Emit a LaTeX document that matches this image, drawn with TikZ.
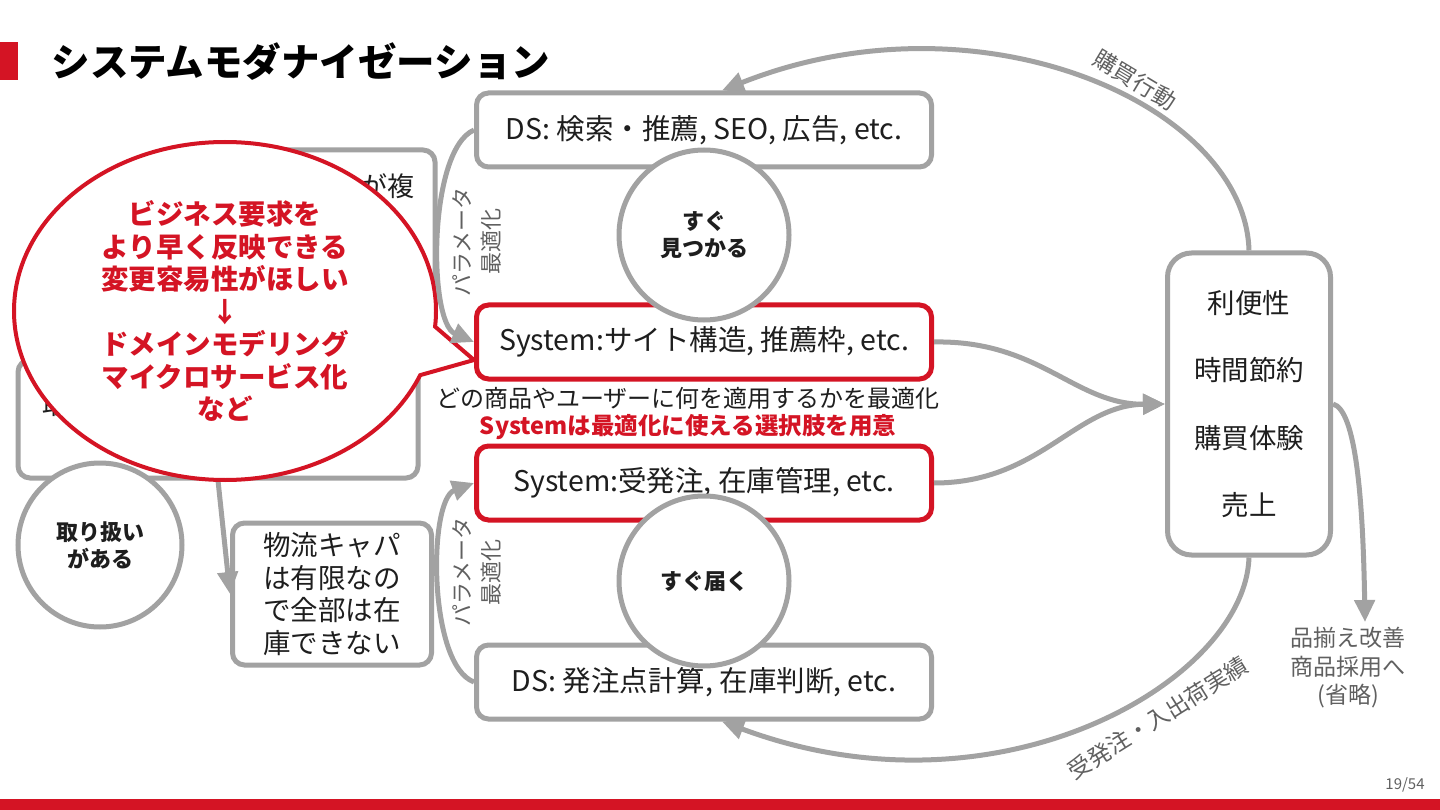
\documentclass[tikz,border=0pt]{standalone}
\usepackage{fontspec}
\setmainfont{Noto Sans CJK JP}
\usepackage{xcolor}
\usetikzlibrary{arrows.meta,positioning,calc,shapes.callouts}

\definecolor{myred}{RGB}{212,20,36}
\definecolor{lgray}{RGB}{162,162,162}
\definecolor{dgray}{RGB}{96,96,96}
\definecolor{ink}{RGB}{30,30,30}

\tikzset{
  gbox/.style={draw=lgray,line width=5pt,rounded corners=12pt,fill=white,
    minimum width=455pt,minimum height=74pt,text=ink,
    font=\fontsize{28.5}{33}\selectfont},
  rbox/.style={gbox,draw=myred},
  bubble/.style={circle,draw=lgray,line width=5pt,fill=white,minimum size=170pt,
    align=center,text=ink,font=\bfseries\fontsize{22}{27}\selectfont},
  flow/.style={draw=lgray,line width=5pt,-{Triangle[length=22pt,width=20pt]}},
  lbl/.style={text=dgray,font=\fontsize{23}{28}\selectfont}
}

\begin{document}
\begin{tikzpicture}[x=1pt,y=1pt]
  \useasboundingbox (0,0) rectangle (1440,-810);
  % title and page frame
  \fill[myred] (0,-42) rectangle (18,-80);
  \node[anchor=west,text=black,font=\bfseries\fontsize{38.5}{44}\selectfont] (title) at (48,-62) {システムモダナイゼーション};
  \fill[myred] (0,-799) rectangle (1440,-810);
  \node[text=dgray,font=\fontsize{15}{17}\selectfont] (page) at (1405,-785) {19/54};

  % left side, mostly hidden by the callout
  \node[gbox,minimum width=203pt,minimum height=180pt] (boxA) at (333.5,-240) {};
  \node[text=ink,font=\fontsize{27}{32}\selectfont] (boxAtxt) at (387,-186) {が複};
  \node[gbox,minimum width=400pt,minimum height=118pt] (boxB) at (218,-419) {};
  \node[text=ink,font=\fontsize{27}{32}\selectfont] (boxBtxt) at (56,-405) {取};
  \node[bubble,minimum size=164pt] (toriatsukai) at (100,-545) {取り扱い\\がある};
  \node[gbox,minimum width=199pt,minimum height=142pt,align=center,
    font=\fontsize{27.5}{32.5}\selectfont] (butsuryu) at (332,-594)
    {物流キャパ\\は有限なの\\で全部は在\\庫できない};
  \draw[flow] (boxB.south) -- (butsuryu.west);

  % callout
  \node[ellipse callout,draw=myred,line width=4pt,fill=white,
    minimum width=422pt,minimum height=338pt,
    callout absolute pointer={(474,-360)},callout pointer arc=17,
    align=center,text=myred,font=\bfseries\fontsize{27.5}{32.5}\selectfont] (callout) at (225,-311)
    {ビジネス要求を\\より早く反映できる\\変更容易性がほしい\\↓\\ドメインモデリング\\マイクロサービス化\\など};

  % centre column
  \node[gbox] (dstop) at (704,-130) {DS: 検索・推薦, SEO, 広告, etc.};
  \node[rbox] (systop) at (704,-342) {System:サイト構造, 推薦枠, etc.};
  \node[rbox] (sysbot) at (704,-483) {System:受発注, 在庫管理, etc.};
  \node[gbox] (dsbot) at (704,-682) {DS: 発注点計算, 在庫判断, etc.};
  \node[bubble] (mitsukaru) at (704,-235) {すぐ\\見つかる};
  \node[bubble] (todoku) at (704,-581) {すぐ届く};
  \node[text=ink,font=\fontsize{24}{28}\selectfont] (tekiyo) at (688,-398) {どの商品やユーザーに何を適用するかを最適化};
  \node[text=myred,font=\bfseries\fontsize{23.5}{27}\selectfont] (sentakushi) at (688,-427) {Systemは最適化に使える選択肢を用意};

  \draw[flow] (dstop.west) .. controls (428,-150) and (428,-322) .. (systop.west);
  \draw[flow] (dsbot.west) .. controls (428,-665) and (428,-500) .. (sysbot.west);
  \node[lbl,rotate=90,align=center,font=\fontsize{22}{29}\selectfont] (paramtop) at (477,-242) {パラメータ\\最適化};
  \node[lbl,rotate=90,align=center,font=\fontsize{22}{29}\selectfont] (parambot) at (477,-572) {パラメータ\\最適化};

  % right side
  \node[draw=lgray,line width=5pt,rounded corners=24pt,fill=white,
    minimum width=163pt,minimum height=302pt,align=center,text=ink,
    font=\fontsize{27.5}{67.5}\selectfont] (merit) at (1249,-404)
    {利便性\\時間節約\\購買体験\\売上};
  \draw[flow] (systop.east) .. controls (1040,-340) and (1075,-405) .. (merit.west);
  \draw[flow] (sysbot.east) .. controls (1040,-483) and (1075,-405) .. (merit.west);

  \draw[flow] (merit.north) .. controls (1245,-105) and (980,12) .. ([xshift=18pt]dstop.north);
  \node[lbl,rotate=-31] (kobai) at (1135,-80) {購買行動};
  \draw[flow] (merit.south) .. controls (1245,-680) and (1000,-825) .. ([xshift=18pt]dsbot.south);
  \node[lbl,rotate=32] (jisseki) at (1158,-718) {受発注・入出荷実績};

  \node[lbl,align=center,font=\fontsize{23}{28.5}\selectfont] (shoryaku) at (1348,-668) {品揃え改善\\商品採用へ\\(省略)};
  \coordinate (omit) at (1365,-622);
  \draw[flow] (merit.east) .. controls (1356,-410) and (1363,-500) .. (omit);
\end{tikzpicture}
\end{document}
